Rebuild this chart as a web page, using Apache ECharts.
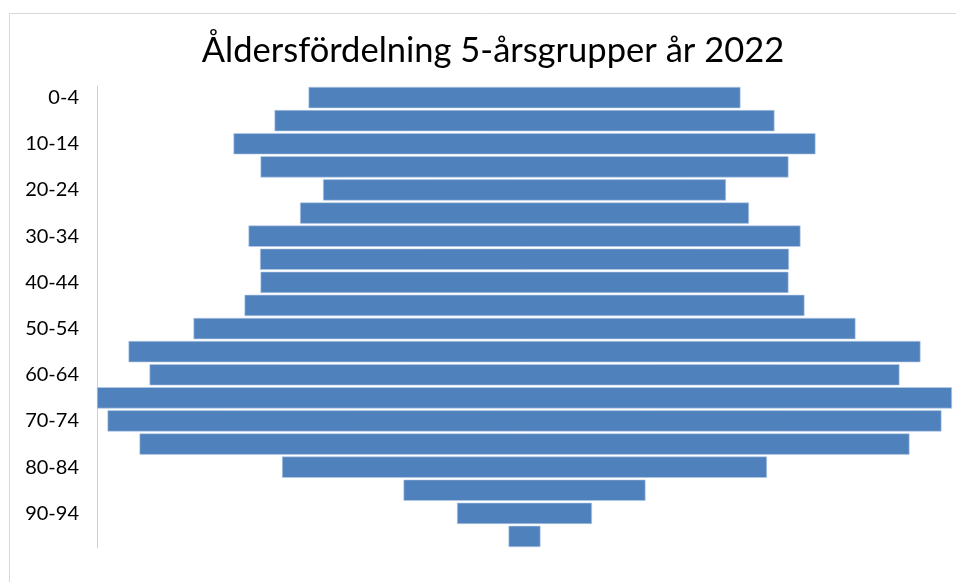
<!DOCTYPE html>
<html>
<head>
<meta charset="utf-8">
<script src="https://cdn.jsdelivr.net/npm/echarts@6/dist/echarts.min.js"></script>
<style>
  html, body { margin: 0; padding: 0; background: #ffffff; }
  #chart { width: 956px; height: 582px; }
</style>
</head>
<body>
<div id="chart"></div>
<script>
// Age groups (5-year bands), top to bottom
const ageGroups = [
  '0-4', '5-9', '10-14', '15-19', '20-24', '25-29', '30-34', '35-39',
  '40-44', '45-49', '50-54', '55-59', '60-64', '65-69', '70-74', '75-79',
  '80-84', '85-89', '90-94', '95+'
];

// Number of inhabitants per age group, 2022
const population = [
  432, 500, 582, 528, 403, 449, 552, 529,
  528, 560, 662, 792, 750, 855, 834, 770,
  485, 242, 135, 32
];

const titleText = 'Åldersfördelning 5-årsgrupper år 2022';

// Centre each bar: an invisible spacer fills half of the remaining width
const maxPop = Math.max(...population);
const spacer = population.map(v => (maxPop - v) / 2);

const chart = echarts.init(document.getElementById('chart'));
chart.setOption({
  animation: false,
  backgroundColor: '#ffffff',
  textStyle: { fontFamily: 'Lato, "Open Sans", sans-serif' },
  graphic: [{
    type: 'rect',
    shape: { x: 9.5, y: 13.5, width: 980, height: 620 },
    style: { fill: 'none', stroke: '#d9d9d9', lineWidth: 1 },
    silent: true,
    z: -1
  }],
  title: {
    text: titleText,
    left: 488,
    textAlign: 'center',
    top: 28,
    textStyle: {
      fontFamily: 'Lato, "Open Sans", sans-serif',
      fontSize: 34.5,
      fontWeight: 'normal',
      color: '#000000'
    }
  },
  grid: { left: 97, right: 4, top: 86, bottom: 34, containLabel: false },
  xAxis: {
    type: 'value',
    min: 0,
    max: maxPop,
    show: false
  },
  yAxis: {
    type: 'category',
    inverse: true,
    data: ageGroups,
    axisLine: { show: true, lineStyle: { color: '#cfcfcf', width: 1 } },
    axisTick: { show: false },
    axisLabel: {
      interval: 1,
      margin: 18,
      fontSize: 20,
      color: '#000000',
      fontFamily: 'Lato, "Open Sans", sans-serif'
    },
    splitLine: { show: false }
  },
  series: [
    {
      name: 'spacer',
      type: 'bar',
      stack: 'pyramid',
      data: spacer,
      silent: true,
      itemStyle: { color: 'rgba(0,0,0,0)' },
      barCategoryGap: '8%'
    },
    {
      name: 'Antal',
      type: 'bar',
      stack: 'pyramid',
      data: population,
      barCategoryGap: '8%',
      itemStyle: {
        color: '#4f81bd',
        borderColor: '#b9cde6',
        borderWidth: 0.6
      }
    }
  ]
});
</script>
</body>
</html>
